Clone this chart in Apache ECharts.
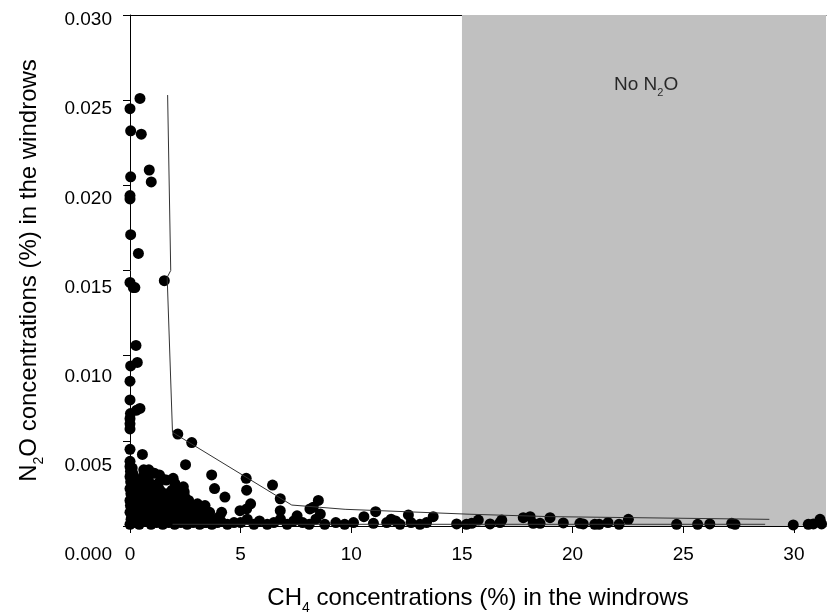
<!DOCTYPE html>
<html>
<head>
<meta charset="utf-8">
<script src="https://cdn.jsdelivr.net/npm/echarts@6/dist/echarts.min.js"></script>
<style>
  html, body { margin: 0; padding: 0; background: #fff; }
  #chart { width: 828px; height: 613px; }
</style>
</head>
<body>
<div id="chart"></div>
<script>
// CH4 (%) and N2O (%) measured in the windrows, one entry per sample
const ch4Pct = [
  0.45, 0.00, 0.03, 0.51, 0.87, 0.03, 0.96, 0.00, 0.00, 0.03, 0.38, 1.55, 0.00, 0.15, 0.22,
  0.27, 0.33, 0.03, 0.00, 0.00, 0.30, 0.45, 0.02, 0.00, 0.00, 0.00, 2.16, 2.79, 0.00, 0.56,
  0.00, 2.51, 3.69, 3.82, 4.29, 5.25, 5.27, 5.45, 5.27, 6.44, 6.79, 6.79, 8.13, 8.51, 8.28,
  0.00, 0.05, 0.00, 0.02, 0.00, 0.04, 0.00, 0.03, 0.00, 0.02, 0.00,
  0.18, 0.22, 0.15, 0.25, 0.20, 0.28, 0.17, 0.23, 0.12,
  0.42, 0.48, 0.40, 0.52, 0.45, 0.38, 0.55, 0.47,
  0.68, 0.72, 0.65, 0.78, 0.70, 0.75, 0.83, 0.62,
  0.95, 0.92, 1.00, 0.97, 1.05, 0.90, 1.02,
  1.20, 1.25, 1.18, 1.30, 1.22, 1.35, 1.28, 1.43,
  1.48, 1.52, 1.45, 1.58, 1.50, 1.62,
  1.75, 1.80, 1.72, 1.85, 1.78, 1.90, 2.03,
  2.02, 2.08, 2.00, 2.12, 2.05, 2.20, 2.41,
  2.30, 2.35, 2.28, 2.40, 2.48,
  2.58, 2.62, 2.55, 2.70, 2.65,
  2.85, 2.90, 2.95, 3.05,
  3.15, 3.20, 3.28, 3.39,
  3.45, 3.55, 3.70, 3.78, 4.14, 3.95,
  0.62, 1.10, 1.33, 1.64, 0.85, 0.10, 1.95, 2.25,
  2.75, 3.10, 3.60, 4.00, 3.35, 2.45, 1.15, 0.58, 1.70, 0.33,
  4.10, 4.40, 4.70, 4.97, 5.00, 5.30, 5.60, 5.85, 6.20, 6.50, 6.80, 7.10, 7.40, 7.55, 7.80,
  8.10, 8.40, 8.60, 8.80, 9.30, 9.70, 10.10,
  10.57, 11.10, 11.00, 11.60, 11.80, 12.00, 12.20, 12.58, 12.70, 13.10, 13.40, 13.70, 14.76,
  15.20, 15.44, 15.74, 16.27, 16.72, 16.80, 17.77, 18.08, 18.22, 18.53, 18.98, 19.58, 20.33,
  20.48, 21.00, 21.20, 21.60, 22.10, 22.52, 24.70, 25.65, 26.20, 27.19, 27.34, 29.97, 30.65,
  30.88, 31.18, 31.25
];
const n2oPct = [
  0.0251, 0.0245, 0.0232, 0.0230, 0.0209, 0.0205, 0.0202, 0.0194, 0.0192, 0.0171, 0.0160, 0.0144, 0.0143, 0.0140, 0.0140,
  0.0106, 0.0096, 0.0094, 0.0085, 0.0074, 0.0068, 0.0069, 0.0066, 0.0063, 0.0060, 0.0057, 0.0054, 0.0049, 0.0045, 0.0042,
  0.0038, 0.0036, 0.0030, 0.0022, 0.0017, 0.0028, 0.0021, 0.0013, 0.0010, 0.0024, 0.0016, 0.0009, 0.0010, 0.0015, 0.0011,
  0.0001, 0.0004, 0.0008, 0.0012, 0.0015, 0.0019, 0.0022, 0.0026, 0.0029, 0.0032, 0.0035,
  0.0002, 0.0006, 0.0010, 0.0013, 0.0017, 0.0021, 0.0024, 0.0028, 0.0031,
  0.0001, 0.0005, 0.0009, 0.0012, 0.0016, 0.0020, 0.0023, 0.0026,
  0.0003, 0.0007, 0.0011, 0.0014, 0.0018, 0.0022, 0.0027, 0.0030,
  0.0001, 0.0005, 0.0009, 0.0013, 0.0016, 0.0020, 0.0024,
  0.0002, 0.0006, 0.0010, 0.0014, 0.0018, 0.0021, 0.0025, 0.0028,
  0.0001, 0.0004, 0.0008, 0.0012, 0.0016, 0.0019,
  0.0002, 0.0006, 0.0010, 0.0013, 0.0017, 0.0021, 0.0025,
  0.0001, 0.0004, 0.0008, 0.0012, 0.0015, 0.0019, 0.0023,
  0.0002, 0.0006, 0.0010, 0.0013, 0.0017,
  0.0001, 0.0004, 0.0008, 0.0011, 0.0015,
  0.0002, 0.0006, 0.0009, 0.0013,
  0.0001, 0.0004, 0.0008, 0.0012,
  0.0002, 0.0005, 0.0001, 0.0003, 0.0008, 0.0002,
  0.0033, 0.0031, 0.0030, 0.0027, 0.0033, 0.0034, 0.0028, 0.0022,
  0.0004, 0.0010, 0.0008, 0.0005, 0.0002, 0.0020, 0.0019, 0.0017, 0.0015, 0.0019,
  0.0003, 0.0001, 0.0002, 0.0009, 0.0002, 0.0004, 0.0001, 0.0003, 0.0001, 0.0002, 0.0004, 0.0001, 0.0003, 0.0006, 0.0002,
  0.0001, 0.0004, 0.0007, 0.0001, 0.0002, 0.0001, 0.0002,
  0.00055, 0.00084, 0.00016, 0.0002, 0.0004, 0.0003, 0.0001, 0.00065, 0.0002, 0.0001, 0.0002, 0.00055, 0.00012,
  0.0001, 0.00016, 0.00035, 0.00012, 0.0002, 0.00035, 0.00049, 0.00055, 0.00016, 0.00016, 0.00049, 0.00018, 0.00016,
  0.00012, 0.0001, 0.0001, 0.0002, 0.0001, 0.00039, 0.0001, 0.0001, 0.00012, 0.00016, 0.0001, 0.00006, 0.0001,
  0.00012, 0.00039, 0.00012
];

// upper boundary line and baseline line
const upperCh4 = [1.70, 1.84, 1.68, 1.92, 7.31, 9.72, 15.36, 18.98, 28.89];
const upperN2o = [0.0253, 0.0150, 0.0146, 0.0055, 0.00123, 0.00098, 0.00069, 0.00055, 0.00039];
const baseCh4 = [1.92, 28.70];
const baseN2o = [0.0001, 0.0001];

// axis ticks
const xTicks = [0, 5, 10, 15, 20, 25, 30];
const yTicks = [0, 0.005, 0.010, 0.015, 0.020, 0.025, 0.030];

// shaded CH4 range without N2O, and its caption position
const noN2oRange = [15, 31.45];
const noN2oCaptionAt = [23.32, 0.02588];

const FONT = 'Liberation Sans, Arial, Helvetica, sans-serif';
const X_MAX = 31.45;
const Y_MAX = 0.03;

// vertical drop of each y tick label below its tick
const yLabelDrop = [29, 25, 21, 17, 13, 9, 5];
const yRich = {};
yLabelDrop.forEach((d, k) => {
  yRich['t' + k] = { fontSize: 19, fontFamily: FONT, color: '#000', padding: [2 * d, 0, 0, 0] };
});

const titleRich = {
  m: { fontSize: 24, fontFamily: FONT, color: '#000' },
  d: { fontSize: 14, fontFamily: FONT, color: '#000', padding: [20, 0, 0, 0] }
};

const chart = echarts.init(document.getElementById('chart'), null, { renderer: 'canvas' });

chart.setOption({
  animation: false,
  backgroundColor: '#fff',
  grid: { left: 130, right: 2, top: 15, bottom: 87, containLabel: false, outerBoundsMode: 'none' },
  xAxis: [
    {
      type: 'value', min: 0, max: X_MAX, z: 6,
      axisLine: { show: true, onZero: false, lineStyle: { color: '#000', width: 1 } },
      axisTick: { show: true, inside: false, length: 7, customValues: xTicks, lineStyle: { color: '#000', width: 1 } },
      axisLabel: { customValues: xTicks, margin: 19, fontSize: 19, fontFamily: FONT, color: '#000' },
      splitLine: { show: false },
      name: '{m|CH}{d|4}{m| concentrations (%) in the windrows}',
      nameLocation: 'middle', nameGap: 55,
      nameTextStyle: { rich: titleRich }
    },
    {
      type: 'value', position: 'top', min: 0, max: X_MAX,
      axisLine: { show: true, onZero: false, lineStyle: { color: '#000', width: 1 } },
      axisTick: { show: false }, axisLabel: { show: false }, splitLine: { show: false }
    }
  ],
  yAxis: {
    type: 'value', min: 0, max: Y_MAX,
    axisLine: { show: true, onZero: false, lineStyle: { color: '#000', width: 1 } },
    axisTick: { show: true, inside: false, length: 7, customValues: yTicks, lineStyle: { color: '#000', width: 1 } },
    axisLabel: {
      customValues: yTicks, margin: 18, fontSize: 19, fontFamily: FONT, color: '#000',
      formatter: v => '{t' + Math.round(v / 0.005) + '|' + v.toFixed(3) + '}',
      rich: yRich
    },
    splitLine: { show: false },
    name: '{m|N}{d|2}{m|O concentrations (%) in the windrows}',
    nameLocation: 'middle', nameGap: 84,
    nameTextStyle: { rich: titleRich }
  },
  series: [
    {
      type: 'line', data: [], z: 1, silent: true,
      markArea: {
        silent: true,
        itemStyle: { color: '#C0C0C0', borderWidth: 0 },
        data: [[{ xAxis: noN2oRange[0], yAxis: 0 }, { xAxis: noN2oRange[1], yAxis: Y_MAX }]]
      }
    },
    {
      type: 'scatter', z: 3, symbol: 'circle', symbolSize: 11,
      itemStyle: { color: '#000', opacity: 1 },
      data: ch4Pct.map((x, i) => [x, n2oPct[i]])
    },
    {
      type: 'line', z: 4, symbol: 'none', silent: true,
      lineStyle: { color: '#333', width: 1 },
      data: upperCh4.map((x, i) => [x, upperN2o[i]])
    },
    {
      type: 'line', z: 4, symbol: 'none', silent: true,
      lineStyle: { color: '#333', width: 1 },
      data: baseCh4.map((x, i) => [x, baseN2o[i]])
    },
    {
      type: 'scatter', z: 5, symbolSize: 0, silent: true,
      data: [noN2oCaptionAt],
      label: {
        show: true, position: 'inside',
        formatter: '{m|No N}{d|2}{m|O}',
        rich: {
          m: { fontSize: 19, fontFamily: FONT, color: '#000' },
          d: { fontSize: 11, fontFamily: FONT, color: '#000', padding: [16, 0, 0, 0] }
        }
      }
    }
  ]
});
</script>
</body>
</html>
